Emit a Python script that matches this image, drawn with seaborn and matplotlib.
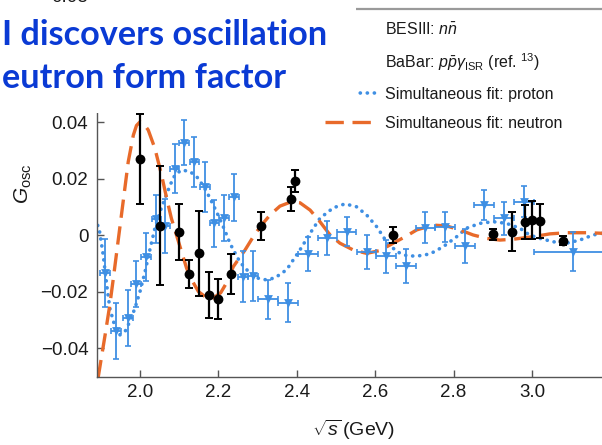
import matplotlib
matplotlib.use('Agg')
import matplotlib.pyplot as plt
import seaborn as sns
from matplotlib.lines import Line2D
from matplotlib.patches import Rectangle
from matplotlib.ticker import FixedLocator, FuncFormatter

# BESIII n nbar points (sqrt(s) in GeV, G_osc, error)
bes_x = [2.0, 2.05, 2.1, 2.125, 2.15, 2.175, 2.2, 2.2324, 2.3094, 2.3864, 2.396,
         2.6444, 2.9, 2.95, 2.981, 3.0, 3.02, 3.08]
bes_y = [0.0269, 0.0034, 0.0011, -0.0138, -0.0064, -0.0211, -0.0226, -0.0137, 0.0034,
         0.0128, 0.0192, 0.0001, 0.0003, 0.0013, 0.0046, 0.0054, 0.0050, -0.0019]
bes_err = [0.016, 0.021, 0.010, 0.005, 0.015, 0.008, 0.007, 0.007, 0.005, 0.0042,
           0.004, 0.0028, 0.002, 0.007, 0.006, 0.0068, 0.006, 0.0015]

# BaBar p pbar gamma_ISR points
babar_x = [1.911, 1.938, 1.969, 1.989, 2.015, 2.042, 2.064, 2.088, 2.113, 2.139, 2.166,
           2.190, 2.214, 2.240, 2.263, 2.289, 2.327, 2.377, 2.428, 2.478, 2.527, 2.578,
           2.628, 2.678, 2.728, 2.778, 2.829, 2.878, 2.929, 2.980, 3.104]
babar_y = [-0.0132, -0.0338, -0.0293, -0.0172, -0.0077, 0.0056, 0.0034, 0.0236, 0.0327,
           0.0259, 0.0172, 0.0042, 0.0060, 0.0134, -0.0146, -0.0144, -0.0227, -0.0238,
           -0.0067, -0.0011, 0.0013, -0.0058, -0.0075, -0.0110, 0.0027, 0.0030, -0.0038,
           0.0107, 0.0060, 0.0118, -0.0058]
babar_yerr = [0.012, 0.010, 0.010, 0.008, 0.0085, 0.0085, 0.0095, 0.0088, 0.0079, 0.009,
              0.0088, 0.0083, 0.0082, 0.0083, 0.009, 0.009, 0.007, 0.007, 0.006, 0.006,
              0.005, 0.006, 0.006, 0.006, 0.0055, 0.0053, 0.0059, 0.0054, 0.0059, 0.0055,
              0.007]
babar_xerr = [0.0125] * 16 + [0.025] * 14 + [0.1]

# simultaneous fit curves
fit_n_x = [1.893, 1.911, 1.923, 1.932, 1.945, 1.957, 1.970, 1.983, 1.991, 2.000, 2.010,
           2.021, 2.038, 2.055, 2.068, 2.080, 2.093, 2.106, 2.119, 2.132, 2.149, 2.166,
           2.187, 2.206, 2.220, 2.238, 2.268, 2.289, 2.310, 2.332, 2.357, 2.387, 2.408,
           2.434, 2.459, 2.485, 2.510, 2.544, 2.578, 2.612, 2.646, 2.678, 2.706, 2.748,
           2.782, 2.816, 2.850, 2.884, 2.918, 2.952, 3.003, 3.046, 3.089, 3.140, 3.200]
fit_n_y = [-0.0505, -0.0352, -0.0246, -0.0152, -0.0011, 0.0119, 0.0260, 0.0354, 0.0388,
           0.0401, 0.0393, 0.0372, 0.0307, 0.0213, 0.0131, 0.0060, 0.0001, -0.0058,
           -0.0117, -0.0158, -0.0199, -0.0217, -0.0222, -0.0203, -0.0170, -0.0111,
           -0.0052, -0.0005, 0.0036, 0.0072, 0.0103, 0.0119, 0.0115, 0.0089, 0.0048,
           0.0001, -0.0028, -0.0052, -0.0064, -0.0054, -0.0028, -0.0004, 0.0019, 0.0036,
           0.0033, 0.0019, 0.0001, -0.0011, -0.0017, -0.0014, -0.0005, 0.0005, 0.0009,
           0.0009, 0.0006]

fit_p_x = [1.892, 1.895, 1.906, 1.915, 1.923, 1.936, 1.949, 1.962, 1.974, 1.987, 2.000,
           2.013, 2.026, 2.038, 2.051, 2.064, 2.077, 2.089, 2.106, 2.128, 2.149, 2.170,
           2.187, 2.204, 2.217, 2.230, 2.255, 2.281, 2.302, 2.323, 2.345, 2.374, 2.408,
           2.434, 2.459, 2.493, 2.523, 2.552, 2.578, 2.604, 2.629, 2.655, 2.680, 2.706,
           2.740, 2.774, 2.808, 2.833, 2.867, 2.901, 2.935, 2.969, 2.994, 3.020, 3.054,
           3.088, 3.122, 3.156, 3.200]
fit_p_y = [0.0035, 0.0030, -0.0069, -0.0175, -0.0258, -0.0323, -0.0352, -0.0340, -0.0305,
           -0.0258, -0.0199, -0.0128, -0.0046, 0.0025, 0.0083, 0.0131, 0.0178, 0.0213,
           0.0231, 0.0225, 0.0201, 0.0154, 0.0107, 0.0057, 0.0015, -0.0030, -0.0095,
           -0.0135, -0.0152, -0.0158, -0.0150, -0.0122, -0.0052, 0.0007, 0.0060, 0.0097,
           0.0111, 0.0101, 0.0072, 0.0030, -0.0023, -0.0058, -0.0072, -0.0074, -0.0066,
           -0.0040, -0.0005, 0.0025, 0.0042, 0.0048, 0.0042, 0.0025, 0.0001, -0.0011,
           -0.0023, -0.0028, -0.0017, 0.0001, 0.0012]

y_ticks = [-0.04, -0.02, 0, 0.02, 0.04]
x_ticks = [2.0, 2.2, 2.4, 2.6, 2.8, 3.0]

ORANGE = '#e86a2a'
BLUE = '#3f8fe3'
TITLE_BLUE = '#0a3ad4'
NEUTRON_DASH = (0, (5.5, 2.6))
PROTON_DOT = (0, (0.05, 1.9))

sns.set_style('ticks')
plt.rcParams['font.family'] = ['Liberation Sans', 'DejaVu Sans']
plt.rcParams['mathtext.fontset'] = 'custom'
plt.rcParams['mathtext.rm'] = 'Liberation Sans'
plt.rcParams['mathtext.it'] = 'Liberation Sans:italic'
plt.rcParams['mathtext.bf'] = 'Liberation Sans:bold'

fig = plt.figure(figsize=(6.02, 4.45), dpi=100)
ax = fig.add_axes([0.1616, 0.1535, 0.8523, 0.8263])

# fit curves
sns.lineplot(x=fit_p_x, y=fit_p_y, ax=ax, color=BLUE, lw=2.6, sort=False,
             estimator=None, zorder=2)
ax.lines[-1].set_linestyle(PROTON_DOT)
ax.lines[-1].set_dash_capstyle('round')
sns.lineplot(x=fit_n_x, y=fit_n_y, ax=ax, color=ORANGE, lw=2.4, sort=False,
             estimator=None, zorder=2.5)
ax.lines[-1].set_linestyle(NEUTRON_DASH)

# BaBar points
ax.errorbar(babar_x, babar_y, xerr=babar_xerr, yerr=babar_yerr, fmt='none',
            ecolor=BLUE, elinewidth=1.3, capsize=2.2, capthick=1.2, zorder=3)
sns.scatterplot(x=babar_x, y=babar_y, ax=ax, marker='v', s=40, color=BLUE,
                edgecolor=BLUE, linewidth=0, zorder=3.5)

# BESIII points
ax.errorbar(bes_x, bes_y, yerr=bes_err, fmt='none', ecolor='black',
            elinewidth=1.6, capsize=3, capthick=1.4, zorder=4)
sns.scatterplot(x=bes_x, y=bes_y, ax=ax, marker='o', s=50, color='black',
                edgecolor='black', linewidth=0, zorder=4.5)

ax.set_xlim(1.891, 3.2)
ax.set_ylim(-0.05, 0.08)
ax.xaxis.set_major_locator(FixedLocator(x_ticks))
ax.yaxis.set_major_locator(FixedLocator(y_ticks))


def fmt_y(v, pos):
    if abs(v) < 1e-9:
        return '0'
    return f'{v:.2f}'.replace('-', '\u2212')


ax.yaxis.set_major_formatter(FuncFormatter(fmt_y))
ax.xaxis.set_major_formatter(FuncFormatter(lambda v, pos: f'{v:.1f}'))
ax.tick_params(direction='in', length=5, width=1, color='#555555',
               labelsize=13.5, labelcolor='#1a1a1a')
ax.tick_params(axis='y', pad=6.5)
ax.tick_params(axis='x', pad=5.5)
for side in ['left', 'bottom']:
    ax.spines[side].set_color('#555555')
    ax.spines[side].set_linewidth(1.0)
ax.spines['top'].set_color('#9a9a9a')
ax.spines['top'].set_linewidth(1.6)
ax.spines['right'].set_visible(False)

ax.set_xlabel(r'$\sqrt{s}\,$(GeV)', fontsize=14, color='#1a1a1a', va='top')
ax.xaxis.set_label_coords(0.5, -0.112)
ax.set_ylabel(r'$G_{\mathrm{osc}}$', fontsize=15, color='#1a1a1a')
ax.yaxis.set_label_coords(-0.123, 0.524)

handles = [
    Line2D([], [], color='black', marker='o', ls='none', ms=4),
    Line2D([], [], color=BLUE, marker='v', ls='none', ms=4),
    Line2D([], [], color=BLUE, lw=2.6, ls=PROTON_DOT, dash_capstyle='round'),
    Line2D([], [], color=ORANGE, lw=2.4, ls=NEUTRON_DASH),
]
labels = [r'BESIII: $n\bar{n}$',
          r'BaBar: $p\bar{p}\gamma_{\mathrm{ISR}}$ (ref. $^{13}$)',
          'Simultaneous fit: proton',
          'Simultaneous fit: neutron']
leg = ax.legend(handles, labels, loc='upper left',
                bbox_to_anchor=(325 / 602, 1 - 22 / 445),
                bbox_transform=fig.transFigure, frameon=False, fontsize=11.5,
                handlelength=3.2, handletextpad=0.55, labelspacing=0.85,
                borderpad=0, borderaxespad=0)
for t in leg.get_texts():
    t.set_color('#1a1a1a')

# slide title box that sits over the upper left of the chart
fig.add_artist(Rectangle((0, 1 - 113 / 445), 356 / 602, (113 - 5) / 445,
                         transform=fig.transFigure, facecolor='white',
                         edgecolor='none', zorder=10))
# bottom of a tick label from the panel above, just peeking in
fig.text(88 / 602, 1 + 3 / 445, '0.08', fontsize=13.5, color='#1a1a1a',
         ha='right', va='center', zorder=9)

# va='baseline' on two lines pins the baseline of the second line
title = fig.text(2 / 602, 1 - 88 / 445, 'I discovers oscillation\neutron form factor',
                 color=TITLE_BLUE, fontsize=26, fontweight='bold', family='Lato',
                 va='baseline', ha='left', linespacing=1.42, zorder=11)
renderer = fig.canvas.get_renderer()
probe = fig.text(0, 0, 'I discovers oscillation', fontsize=26, fontweight='bold',
                 family='Lato')
w = probe.get_window_extent(renderer).width
probe.remove()
title.set_fontsize(26 * 325 / w)

fig.savefig('out.png', dpi=100)
plt.close()
